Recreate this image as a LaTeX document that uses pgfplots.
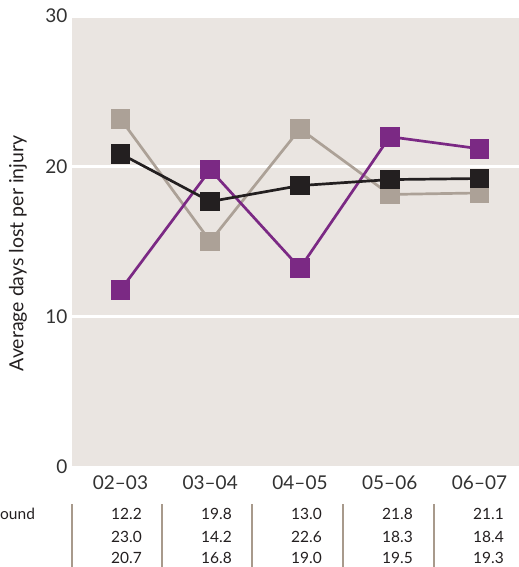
\documentclass[border=0pt]{standalone}
\usepackage{pgfplots}
\pgfplotsset{compat=1.18}
\usepackage{fontspec}
\setmainfont{Lato}
\definecolor{bgc}{RGB}{234,229,225}
\definecolor{purp}{RGB}{123,41,132}
\definecolor{tan}{RGB}{172,161,151}
\definecolor{blk}{RGB}{35,31,32}
\definecolor{txt}{RGB}{50,50,50}
\definecolor{sep}{RGB}{168,154,140}
\begin{document}
\begin{tikzpicture}
\path[use as bounding box] (0bp,0bp) rectangle (519bp,-567bp);
\begin{axis}[
  at={(72bp,-467bp)}, anchor=south west,
  width=447bp, height=451bp, scale only axis,
  xmin=-0.54, xmax=4.44, ymin=0, ymax=30,
  axis background/.style={fill=bgc},
  axis line style={draw=none},
  major tick length=0pt,
  ytick={0,10,20,30},
  ymajorgrids, grid style={white, line width=3bp},
  xtick={0,1,2,3,4},
  xticklabels={02--03,03--04,04--05,05--06,06--07},
  xticklabel style={font=\fontsize{19bp}{20bp}\selectfont, text=txt, yshift=-5bp},
  yticklabel style={font=\fontsize{19bp}{20bp}\selectfont, text=txt, xshift=-1bp},
  /pgf/number format/assume math mode=true,
  ylabel={Average days lost per injury},
  ylabel style={font=\fontsize{19.5bp}{22bp}\selectfont, text=blk, at={(rel axis cs:0,0.5)}, anchor=center, rotate=0, yshift=54bp, xshift=-12bp},
  clip=false,
  every axis plot/.append style={line width=2.7bp, mark=square*, mark size=8.5bp, mark options={solid}},
]
\addplot[color=tan] coordinates {(0,23.16) (1,15.01) (2,22.50) (3,18.13) (4,18.23)};
\addplot[color=purp] coordinates {(0,11.77) (1,19.78) (2,13.23) (3,21.97) (4,21.17)};
\addplot[color=blk] coordinates {(0,20.84) (1,17.66) (2,18.72) (3,19.12) (4,19.19)};
\end{axis}
% table below
\foreach \x in {72,162,252,343,434} {
  \draw[sep, line width=2bp] (\x bp,-504bp) -- (\x bp,-567bp);
}
\begin{scope}[every node/.style={font=\fontsize{15.5bp}{16bp}\selectfont, text=blk, inner sep=0pt}]
\node[anchor=west] at (0bp,-514bp) {ound};
\foreach \x/\a/\b/\c in {142/12.2/23.0/20.7, 232/19.8/14.2/16.8, 322/13.0/22.6/19.0, 413/21.8/18.3/19.5, 504/21.1/18.4/19.3} {
  \node[anchor=east] at (\x bp,-514bp) {\a};
  \node[anchor=east] at (\x bp,-537bp) {\b};
  \node[anchor=east] at (\x bp,-558bp) {\c};
}
\end{scope}
\end{tikzpicture}
\end{document}
